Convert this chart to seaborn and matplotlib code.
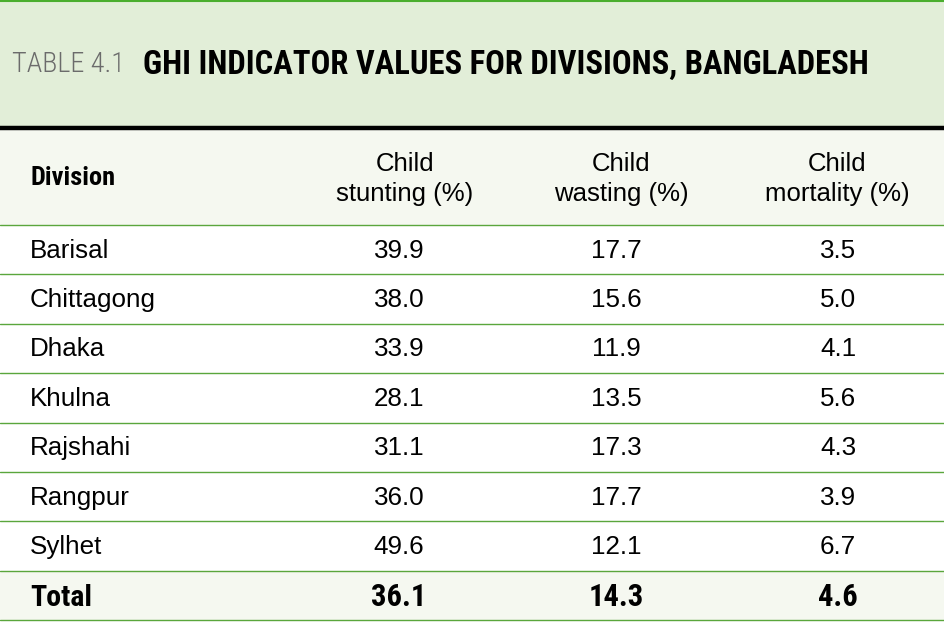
import matplotlib
matplotlib.use('Agg')
import matplotlib.pyplot as plt
import seaborn as sns
import pandas as pd
from matplotlib import font_manager as fm

# table content
divisions = ['Barisal', 'Chittagong', 'Dhaka', 'Khulna', 'Rajshahi', 'Rangpur', 'Sylhet']
stunting = [39.9, 38.0, 33.9, 28.1, 31.1, 36.0, 49.6]
wasting = [17.7, 15.6, 11.9, 13.5, 17.3, 17.7, 12.1]
mortality = [3.5, 5.0, 4.1, 5.6, 4.3, 3.9, 6.7]
total_label = 'Total'
total_values = [36.1, 14.3, 4.6]
col_headers = ['Child\nstunting (%)', 'Child\nwasting (%)', 'Child\nmortality (%)']

df = pd.DataFrame({'Division': divisions, 'stunting': stunting,
                   'wasting': wasting, 'mortality': mortality})

sns.set_theme(style='white')

names = {f.name for f in fm.fontManager.ttflist}
narrow = next((n for n in ['Roboto Condensed', 'Liberation Sans Narrow', 'DejaVu Sans Condensed']
               if n in names), 'DejaVu Sans')
regular = 'Liberation Sans' if 'Liberation Sans' in names else 'DejaVu Sans'
plt.rcParams['font.family'] = [regular, 'DejaVu Sans']

GREEN = '#5aa63c'
TITLE_BG = '#e2eed8'
HEAD_BG = '#f5f8f0'

fig = plt.figure(figsize=(9.45, 6.23), dpi=100)
ax = fig.add_axes([0, 0, 1, 1])
ax.set_xlim(0, 945)
ax.set_ylim(623, 0)
ax.axis('off')

# bands
ax.axhspan(0, 127, color=TITLE_BG, lw=0)
ax.axhspan(127, 225, color=HEAD_BG, lw=0)
ax.axhspan(571, 621, color=HEAD_BG, lw=0)
ax.axhline(1, color='#4aae2e', lw=1.5)
ax.axhline(128, color='black', lw=3.2)

row_top = 225
row_h = 49.4
for i in range(len(divisions) + 2):
    ax.axhline(row_top + i * row_h, color=GREEN, lw=1.0)

# title
ax.text(12, 65, 'TABLE 4.1', fontsize=20.3, color='#6b6b6b', va='center', ha='left',
        family=narrow, fontstretch='condensed', fontweight='light')
ax.text(143, 65, 'GHI INDICATOR VALUES FOR DIVISIONS, BANGLADESH', fontsize=23.5,
        fontweight='bold', color='black', va='center', ha='left',
        family=narrow, fontstretch='condensed')

# header
head_x = [405, 621, 837]
val_x = [399, 616, 838]
ax.text(30, 178, 'Division', fontsize=19, fontweight='bold', va='center', ha='left',
        family=narrow, fontstretch='condensed', color='black')
for x, h in zip(head_x, col_headers):
    ax.text(x, 179, h, fontsize=18.5, va='center', ha='center', color='black',
            linespacing=1.3)

# rows
for i, r in df.iterrows():
    y = row_top + (i + 0.5) * row_h + 1
    ax.text(30, y, r['Division'], fontsize=18.7, va='center', ha='left', color='black')
    for x, v in zip(val_x, [r['stunting'], r['wasting'], r['mortality']]):
        ax.text(x, y, f'{v:.1f}', fontsize=18.7, va='center', ha='center', color='black')

# total row, aligned on a common baseline
y = 606
ax.text(30, y, total_label, fontsize=21.5, fontweight='bold', va='baseline', ha='left',
        family=narrow, fontstretch='condensed', color='black')
for x, v in zip(val_x, total_values):
    ax.text(x, y, f'{v:.1f}', fontsize=22, fontweight='bold', va='baseline', ha='center',
            family=narrow, fontstretch='condensed', color='black')

fig.savefig('out.png', dpi=100)
